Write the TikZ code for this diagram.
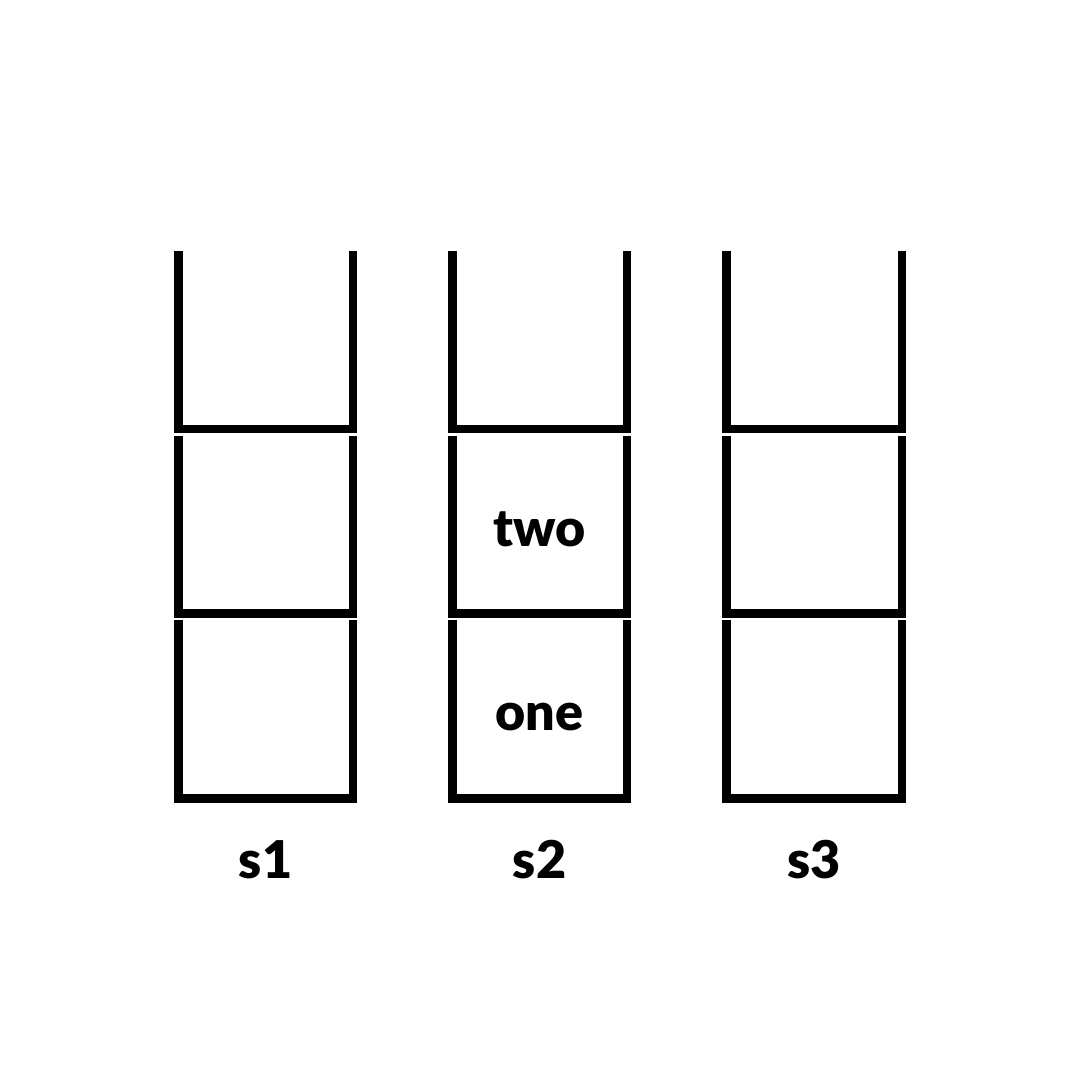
\documentclass[tikz,border=0pt]{standalone}
\usepackage{fontspec}
\setmainfont{Lato}
\newfontfamily\heavy{Lato Black}
\begin{document}
\begin{tikzpicture}[x=1pt,y=-1pt,
  cup/.style={line width=8.5pt,line join=miter,draw=black},
  lbl/.style={font=\heavy\fontsize{52}{52}\selectfont,inner sep=0pt,anchor=base}]
\fill[white] (0,0) rectangle (1080,1080);
\useasboundingbox (0,0) rectangle (1080,1080);
\foreach \l/\r in {178.3/353,452.5/627,726.5/902}{
  \draw[cup] (\l,251) -- (\l,429.2) -- (\r,429.2) -- (\r,251);
  \draw[cup] (\l,436) -- (\l,613.6) -- (\r,613.6) -- (\r,436);
  \draw[cup] (\l,620) -- (\l,798.5) -- (\r,798.5) -- (\r,620);
}
\node[lbl] (two) at (539.5,546) {two};
\node[lbl] (one) at (539.5,730) {one};
\node[lbl] (s1) at (265.5,878) {s1};
\node[lbl] (s2) at (539.5,878) {s2};
\node[lbl] (s3) at (814,878) {s3};
\end{tikzpicture}
\end{document}
